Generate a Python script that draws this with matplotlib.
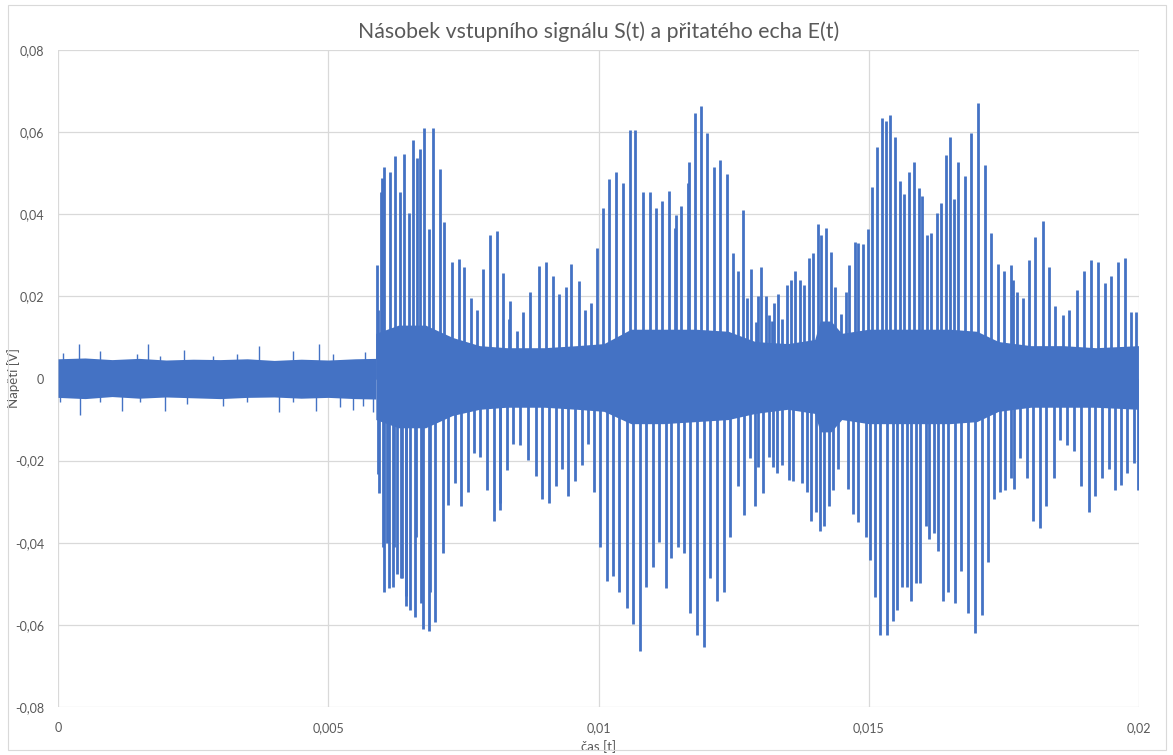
import matplotlib.pyplot as plt
import numpy as np
from matplotlib.patches import Rectangle
from matplotlib.ticker import FuncFormatter

# all times in ms, voltages in mV

# quiet part before the echo arrives: band envelope + the odd taller spikes
noise_t  = [0.0, 0.5, 1.0, 1.5, 2.0, 2.5, 3.0, 3.5, 4.0, 4.5, 5.0, 5.5, 5.88]
noise_hi = [4.8, 5.0, 4.6, 4.9, 4.5, 4.7, 4.6, 4.8, 4.4, 4.7, 4.5, 4.8, 4.9]
noise_lo = [-4.6, -4.9, -4.4, -4.8, -4.5, -4.7, -4.9, -4.6, -4.5, -4.8, -4.6, -4.9, -5.0]

noise_up_t = [0.10, 0.39, 0.78, 1.46, 1.67, 1.89, 2.33, 2.87, 3.31, 3.71, 4.35, 4.82, 5.09, 5.68]
noise_up   = [6.2, 8.3, 6.7, 6.0, 8.5, 5.6, 7.0, 5.6, 6.0, 8.0, 6.8, 8.5, 6.0, 6.4]
noise_dn_t = [0.04, 0.41, 0.78, 1.18, 1.52, 1.98, 2.38, 3.06, 3.49, 4.09, 4.35, 4.77, 5.22, 5.46, 5.65, 5.83]
noise_dn   = [-5.8, -8.8, -5.8, -8.0, -5.8, -7.8, -6.2, -6.6, -5.8, -8.2, -5.8, -8.0, -7.0, -7.6, -6.6, -8.2]

# dense middle band of the product signal (where the trace looks solid)
core_t  = [5.88, 6.3, 6.8, 7.3, 7.8, 8.3, 9.0, 9.6, 10.1, 10.6, 11.2, 11.8, 12.4, 12.9, 13.5,
           14.0, 14.1, 14.3, 14.5, 15.0, 15.5, 16.0, 16.5, 17.0, 17.4, 18.0, 18.6, 19.2, 19.99]
core_hi = [11, 13, 13, 10, 8, 7.5, 7.5, 8, 8.5, 12, 12, 12, 11.5, 9, 8.5,
           9.5, 14, 14, 11, 12, 12, 12, 12, 11.5, 9, 8, 8, 7.5, 8]
core_lo = [-10, -12, -12, -9, -7.5, -7, -7, -7.5, -8, -11, -11, -10.5, -10, -8.5, -7.5,
           -8.5, -13, -13, -10, -11, -11, -11, -11, -10.5, -8, -7, -7, -7, -7.5]

# positive spike tips
up_t = [5.90, 5.92, 5.98, 5.99, 6.04, 6.15, 6.23, 6.32, 6.40, 6.49, 6.56, 6.64, 6.70, 6.78, 6.86,
        6.93, 7.06, 7.15, 7.29, 7.41, 7.51, 7.65, 7.76, 7.86, 7.99, 8.12,
        8.24, 8.35, 8.37, 8.49, 8.61, 8.74, 8.90, 9.02, 9.15, 9.27, 9.39, 9.50, 9.63, 9.75, 9.86,
        9.97, 10.08, 10.20, 10.32, 10.46,
        10.59, 10.68, 10.82, 10.95, 11.06, 11.17, 11.30, 11.41, 11.44, 11.53, 11.66, 11.67, 11.78,
        11.90, 12.01, 12.14, 12.25, 12.38, 12.49, 12.58, 12.67, 12.75, 12.83, 12.91,
        12.95, 13.00, 13.09, 13.15, 13.21, 13.25, 13.33, 13.40, 13.49, 13.56, 13.64, 13.72, 13.81,
        13.89, 13.97, 14.06, 14.12, 14.21, 14.30, 14.38, 14.49, 14.57, 14.64, 14.74, 14.81, 14.89,
        14.99, 15.06, 15.15, 15.24,
        15.31, 15.39, 15.49, 15.58, 15.65, 15.74, 15.84, 15.93, 15.99, 16.07, 16.16, 16.26, 16.33,
        16.42, 16.50, 16.58, 16.66, 16.78, 16.90, 17.02, 17.15, 17.27, 17.40, 17.51, 17.63,
        17.66, 17.74, 17.85, 17.97, 18.08, 18.22, 18.34, 18.45, 18.59, 18.71, 18.85, 18.99, 19.12,
        19.25, 19.38, 19.49, 19.62, 19.75, 19.86, 19.95]
up_v = [27.6, 16.7, 45.4, 48.9, 51.5, 50.2, 54.1, 45.4, 54.7, 40.2, 58.0, 53.7, 55.8, 61.0, 36.3,
        61.0, 51.0, 38.0, 28.4, 29.1, 27.1, 19.7, 16.7, 26.7, 35.0, 36.0,
        25.8, 14.5, 18.9, 11.5, 16.3, 21.0, 27.3, 28.4, 25.0, 20.6, 22.3, 28.0, 23.7, 16.7, 18.4,
        31.9, 41.5, 48.6, 50.2, 47.6,
        60.6, 60.6, 45.4, 45.4, 41.5, 43.2, 45.6, 36.7, 39.7, 41.9, 47.6, 52.8, 64.7,
        66.4, 59.7, 51.5, 53.2, 49.7, 30.6, 26.3, 41.0, 19.7, 26.7, 13.7,
        20.2, 27.1, 20.2, 15.4, 14.1, 18.4, 20.6, 14.5, 22.8, 24.1, 26.3, 24.1, 22.8,
        29.3, 30.6, 37.7, 35.0, 36.7, 30.8, 22.3, 15.8, 21.0, 27.6, 33.2, 33.0, 32.7,
        36.3, 46.7, 56.3, 63.5,
        62.8, 64.1, 58.9, 48.0, 45.0, 50.4, 52.8, 46.3, 44.5, 35.0, 35.4, 40.2, 42.8,
        54.5, 58.9, 43.7, 52.8, 49.3, 59.7, 67.0, 51.9, 35.4, 28.0, 26.3, 27.6,
        24.1, 21.0, 19.7, 28.9, 34.5, 38.4, 27.1, 17.6, 15.4, 16.7, 21.5, 26.3, 28.9,
        28.4, 23.2, 25.0, 28.4, 29.3, 16.3, 16.3]

# negative spike tips
dn_t = [5.92, 5.94, 6.01, 6.03, 6.08, 6.13, 6.19, 6.21, 6.27, 6.34, 6.36, 6.43, 6.44, 6.51, 6.61,
        6.63, 6.72, 6.75, 6.86, 6.88, 6.97, 7.12, 7.21, 7.34, 7.46, 7.58, 7.69, 7.81, 7.94, 8.06, 8.17,
        8.18, 8.30, 8.42, 8.55, 8.69, 8.84, 8.95, 9.09, 9.21, 9.33, 9.44, 9.56, 9.69, 9.81, 9.92,
        10.03, 10.15, 10.27, 10.38, 10.52,
        10.64, 10.77, 10.88, 11.01, 11.12, 11.24, 11.35, 11.47, 11.59, 11.70, 11.83, 11.96, 12.07,
        12.20, 12.32, 12.44, 12.58, 12.70, 12.80, 12.89,
        12.96, 13.04, 13.15, 13.22, 13.30, 13.40, 13.52, 13.60, 13.76, 13.85, 13.93, 14.02, 14.09,
        14.18, 14.26, 14.33, 14.43, 14.61, 14.70, 14.81, 14.95, 15.02, 15.12, 15.20,
        15.34, 15.45, 15.53, 15.62, 15.70, 15.78, 15.87, 15.95, 16.05, 16.11, 16.21, 16.28, 16.38,
        16.47, 16.59, 16.71, 16.84, 16.96, 17.09, 17.21, 17.32, 17.43, 17.53, 17.64,
        17.68, 17.80, 17.92, 18.03, 18.16, 18.28, 18.42, 18.53, 18.66, 18.79, 18.93, 19.07, 19.19,
        19.32, 19.44, 19.55, 19.67, 19.78, 19.90, 19.99]
dn_v = [-23.3, -28.0, -41.0, -52.0, -40.0, -51.0, -50.7, -41.0, -47.7, -48.5, -48.5, -52.9, -55.5,
        -56.3, -58.0, -38.5, -54.6, -61.1, -61.6, -52.0, -59.4, -42.4, -30.7, -25.5, -31.1, -27.7,
        -18.1, -19.0, -27.2, -34.6, -30.3,
        -32.0, -22.4, -15.9, -16.3, -19.8, -23.7, -29.4, -30.3, -26.3, -22.0, -28.5, -25.0, -21.1,
        -15.9, -27.7, -41.1, -49.4, -48.1, -52.0, -55.9,
        -59.8, -66.4, -50.7, -45.9, -39.8, -51.1, -43.7, -41.1, -42.4, -57.2, -62.4, -65.5, -48.5,
        -54.2, -52.0, -38.5, -26.3, -33.3, -19.4, -31.1,
        -21.6, -28.0, -19.0, -21.6, -22.9, -21.1, -24.6, -25.0, -25.5, -27.7, -34.6, -32.4, -37.2,
        -35.9, -31.1, -27.2, -22.0, -26.8, -32.9, -35.0, -38.5, -44.2, -53.3, -62.4,
        -62.4, -59.0, -56.3, -50.7, -50.7, -54.2, -49.8, -49.8, -35.9, -39.0, -37.7, -42.0, -54.2,
        -52.0, -54.6, -46.8, -57.2, -62.0, -57.7, -44.6, -29.4, -27.7, -27.2, -24.2,
        -26.8, -19.4, -24.2, -34.6, -36.3, -31.1, -24.2, -15.0, -16.3, -17.7, -26.3, -32.4, -28.5,
        -24.2, -22.0, -27.2, -25.9, -22.9, -20.7, -27.2]

title = 'Násobek vstupního signálu S(t) a přitatého echa E(t)'
xlabel = 'čas [t]'
ylabel = 'Napětí [V]'

blue = '#4472C4'
grey_txt = '#595959'
grid_c = '#D9D9D9'

plt.rcParams['font.family'] = ['Lato', 'DejaVu Sans']

def s(v):
    return np.asarray(v, dtype=float) / 1000.0


fig = plt.figure(figsize=(11.73, 7.55), dpi=100)
fig.patches.append(Rectangle((0.007, 0.006), 0.987, 0.988, transform=fig.transFigure,
                             fill=False, edgecolor=grid_c, lw=0.8))
ax = fig.add_axes([58 / 1173, 1 - 707 / 755, (1139 - 58) / 1173, (707 - 50) / 755])

ax.fill_between(s(noise_t), s(noise_lo), s(noise_hi), color=blue, lw=0)
ax.vlines(s(noise_up_t), 0, s(noise_up), color=blue, lw=1.0)
ax.vlines(s(noise_dn_t), s(noise_dn), 0, color=blue, lw=1.0)

ax.fill_between(s(core_t), s(core_lo), s(core_hi), color=blue, lw=0)
ax.vlines(s(up_t), 0, s(up_v), color=blue, lw=2.0)
ax.vlines(s(dn_t), s(dn_v), 0, color=blue, lw=2.0)

ax.set_xlim(0, 0.02)
ax.set_ylim(-0.08, 0.08)
ax.set_xticks(np.arange(0, 0.0201, 0.005))
ax.set_yticks(np.arange(-0.08, 0.0801, 0.02))


def comma(v, pos):
    v = round(v, 5)
    if abs(v) < 1e-12:
        return '0'
    return f'{v:g}'.replace('.', ',')


ax.xaxis.set_major_formatter(FuncFormatter(comma))
ax.yaxis.set_major_formatter(FuncFormatter(comma))
ax.tick_params(length=0, labelsize=9, labelcolor=grey_txt, pad=10)
ax.tick_params(axis='x', pad=11)
for sp in ax.spines.values():
    sp.set_visible(False)
ax.grid(True, color=grid_c, lw=0.9)
ax.set_axisbelow(True)

ax.set_title(title, fontsize=15.3, color=grey_txt, pad=9)
ax.set_xlabel(xlabel, fontsize=9.5, color=grey_txt, labelpad=4)
ax.set_ylabel(ylabel, fontsize=9.5, color=grey_txt)
ax.yaxis.set_label_coords(-0.035, 0.5)

fig.savefig('out.png', dpi=100)
